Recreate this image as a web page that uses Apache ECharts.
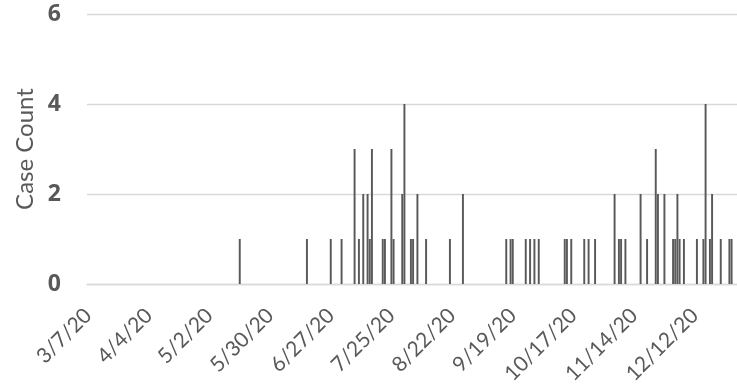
<!DOCTYPE html>
<html>
<head>
<meta charset="utf-8">
<script src="https://cdn.jsdelivr.net/npm/echarts@6/dist/echarts.min.js"></script>
<style>
html,body{margin:0;padding:0;background:#fff;}
#chart{width:737px;height:387px;}
</style>
</head>
<body>
<div id="chart"></div>
<script>
// Axis range (first and last day shown on the category axis)
var startDate = '3/7/20';
var endDate = '12/31/20';

// Days with reported cases (all other days are 0)
var caseDates = ['5/16/20','6/16/20','6/27/20','7/2/20','7/8/20','7/10/20','7/12/20','7/14/20','7/15/20','7/16/20',
  '7/21/20','7/22/20','7/25/20','7/26/20','7/30/20','7/31/20','8/3/20','8/4/20','8/6/20','8/10/20',
  '8/21/20','8/27/20','9/16/20','9/18/20','9/19/20','9/25/20','9/27/20','9/29/20','10/1/20','10/13/20',
  '10/14/20','10/16/20','10/22/20','10/24/20','10/27/20','11/5/20','11/7/20','11/8/20','11/10/20','11/17/20',
  '11/20/20','11/24/20','11/25/20','11/28/20','12/2/20','12/3/20','12/4/20','12/5/20','12/7/20','12/13/20',
  '12/16/20','12/17/20','12/19/20','12/20/20','12/24/20','12/28/20','12/29/20'];
var caseCounts = [1,1,1,1,3,1,2,2,1,3,
  1,1,3,1,2,4,1,1,2,1,
  1,2,1,1,1,1,1,1,1,1,
  1,1,1,1,1,2,1,1,1,2,
  1,3,2,2,1,1,2,1,1,1,
  1,4,1,2,1,1,1];

var yTicks = [0, 2, 4, 6];

function parseMDY(s){ var p = s.split('/'); return new Date(2000 + +p[2], +p[0]-1, +p[1]); }
function fmt(d){ return (d.getMonth()+1) + '/' + d.getDate() + '/' + String(d.getFullYear()).slice(2); }

var categories = [];
for (var d = parseMDY(startDate); d <= parseMDY(endDate); d.setDate(d.getDate()+1)) categories.push(fmt(d));
var lookup = {};
caseDates.forEach(function(s, i){ lookup[s] = caseCounts[i]; });
var values = categories.map(function(c){ return lookup[c] || 0; });

var chart = echarts.init(document.getElementById('chart'), null, {renderer:'canvas'});
chart.setOption({
  animation: false,
  grid: {left: 87, right: 0, top: 14, bottom: 103, containLabel: false, outerBoundsMode: 'none'},
  xAxis: {
    type: 'category',
    data: categories,
    boundaryGap: true,
    axisLine: {show: true, lineStyle: {color: '#d9d9d9', width: 1.3}},
    axisTick: {show: false},
    axisLabel: {interval: 27, rotate: 45, margin: 28, color: '#595959', fontSize: 21, fontFamily: 'Lato'}
  },
  yAxis: {
    type: 'value',
    min: yTicks[0], max: yTicks[yTicks.length-1], interval: 2,
    name: 'Case Count', nameLocation: 'middle', nameGap: 48,
    nameTextStyle: {color: '#595959', fontSize: 24, fontFamily: 'Lato'},
    axisLine: {show: false}, axisTick: {show: false},
    axisLabel: {margin: 26, color: '#595959', fontSize: 23, fontWeight: 'bold', fontFamily: 'Noto Sans'},
    splitLine: {lineStyle: {color: '#d9d9d9', width: 1.3}}
  },
  series: [{
    type: 'bar',
    data: values,
    barWidth: '90%',
    itemStyle: {color: '#595959'}
  }]
});
</script>
</body>
</html>
